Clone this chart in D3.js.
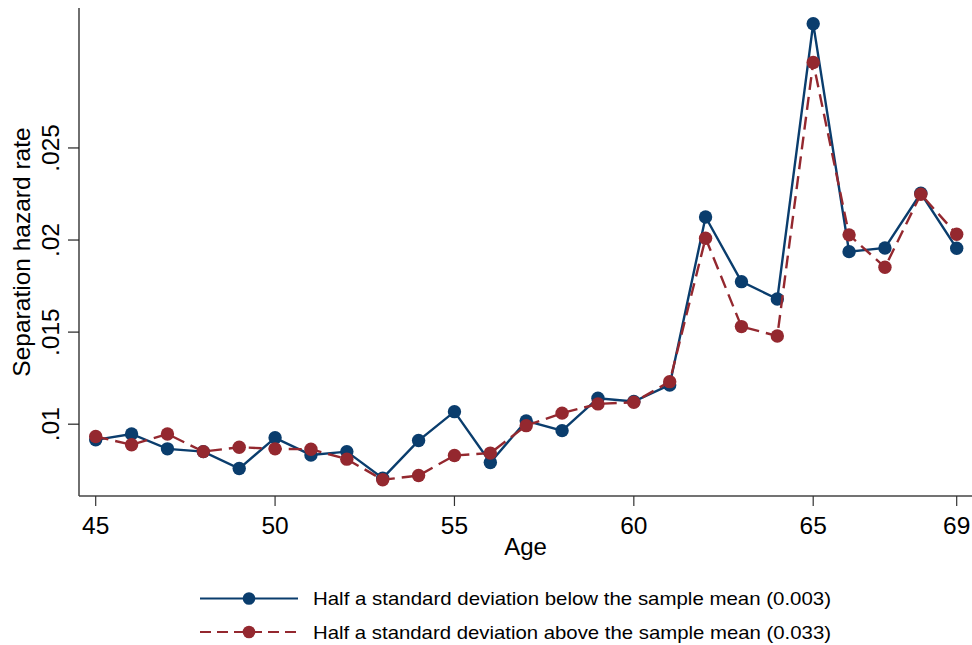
<!DOCTYPE html>
<html>
<head>
<meta charset="utf-8">
<script src="https://cdn.jsdelivr.net/npm/d3@7"></script>
<style>
  body { margin: 0; background: #fff; }
  svg { display: block; font-family: "Liberation Sans", Arial, sans-serif; }
</style>
</head>
<body>
<div id="chart"></div>
<script>
// Ages on the x axis
const ages = d3.range(45, 70);

// Separation hazard rate, half a SD below the sample mean
const below = [0.00915, 0.00947, 0.00866, 0.00851, 0.00759, 0.00926, 0.00833, 0.00851,
  0.00707, 0.00911, 0.01068, 0.00792, 0.01018, 0.00965, 0.01141, 0.01123, 0.01213,
  0.02125, 0.01774, 0.0168, 0.03175, 0.01937, 0.01957, 0.02254, 0.01955];

// Separation hazard rate, half a SD above the sample mean
const above = [0.00933, 0.00888, 0.00947, 0.00851, 0.00875, 0.00866, 0.00864, 0.0081,
  0.00698, 0.00721, 0.0083, 0.00843, 0.00992, 0.0106, 0.0111, 0.01119, 0.01231,
  0.0201, 0.0153, 0.01479, 0.02964, 0.02028, 0.01852, 0.02249, 0.02031];

const xTicks = [45, 50, 55, 60, 65, 69];
const yTicks = [0.01, 0.015, 0.02, 0.025];
const yTickLabels = [".01", ".015", ".02", ".025"];

const series = [
  { name: "Half a standard deviation below the sample mean (0.003)", values: below, color: "#0a3d6d", dash: null, legendDash: null },
  { name: "Half a standard deviation above the sample mean (0.033)", values: above, color: "#94282f", dash: "13,7", legendDash: "11,6" }
];

const width = 972;
const height = 645;
const plot = { left: 79, right: 972, top: 8, bottom: 496 };

const svg = d3.select("#chart").append("svg")
  .attr("width", width)
  .attr("height", height);

const x = d3.scaleLinear().domain([45, 69]).range([95.7, 956.7]);
const y = d3.scaleLinear().domain([0.0061, 0.0326]).range([plot.bottom, plot.top]);

// Axes lines
svg.append("line")
  .attr("x1", plot.left).attr("x2", plot.left)
  .attr("y1", plot.top).attr("y2", plot.bottom)
  .attr("stroke", "#222").attr("stroke-width", 1.3);
svg.append("line")
  .attr("x1", plot.left).attr("x2", plot.right)
  .attr("y1", plot.bottom).attr("y2", plot.bottom)
  .attr("stroke", "#444").attr("stroke-width", 1.3);

// X axis ticks and labels
const xg = svg.append("g");
xg.selectAll("line")
  .data(xTicks)
  .join("line")
  .attr("x1", d => x(d)).attr("x2", d => x(d))
  .attr("y1", plot.bottom).attr("y2", plot.bottom + 10)
  .attr("stroke", "#333").attr("stroke-width", 1.2);
xg.selectAll("text")
  .data(xTicks)
  .join("text")
  .attr("x", d => x(d))
  .attr("y", 533.5)
  .attr("text-anchor", "middle")
  .attr("font-size", 24.5)
  .attr("fill", "#000")
  .text(d => d);

// Y axis ticks and rotated labels
const yg = svg.append("g");
yg.selectAll("line")
  .data(yTicks)
  .join("line")
  .attr("x1", plot.left - 11).attr("x2", plot.left)
  .attr("y1", d => y(d)).attr("y2", d => y(d))
  .attr("stroke", "#222").attr("stroke-width", 1.2);
yg.selectAll("text")
  .data(yTicks)
  .join("text")
  .attr("transform", d => `translate(59,${y(d)}) rotate(-90)`)
  .attr("text-anchor", "middle")
  .attr("font-size", 24.5)
  .attr("fill", "#000")
  .text((d, i) => yTickLabels[i]);

// Axis titles
svg.append("text")
  .attr("x", (plot.left + plot.right) / 2)
  .attr("y", 555)
  .attr("text-anchor", "middle")
  .attr("font-size", 24)
  .text("Age");

svg.append("text")
  .attr("transform", `translate(30,${(plot.top + plot.bottom) / 2}) rotate(-90)`)
  .attr("text-anchor", "middle")
  .attr("font-size", 24.5)
  .text("Separation hazard rate");

// Lines and markers
const line = d3.line()
  .x((d, i) => x(ages[i]))
  .y(d => y(d));

series.forEach(s => {
  const g = svg.append("g");
  g.append("path")
    .datum(s.values)
    .attr("fill", "none")
    .attr("stroke", s.color)
    .attr("stroke-width", 2.4)
    .attr("stroke-dasharray", s.dash)
    .attr("d", line);
  g.selectAll("circle")
    .data(s.values)
    .join("circle")
    .attr("cx", (d, i) => x(ages[i]))
    .attr("cy", d => y(d))
    .attr("r", 6.7)
    .attr("fill", s.color);
});

// Legend
const legend = svg.append("g");
const legendY = [598.5, 632];
series.forEach((s, i) => {
  const ly = legendY[i];
  legend.append("line")
    .attr("x1", 200).attr("x2", 298)
    .attr("y1", ly).attr("y2", ly)
    .attr("stroke", s.color)
    .attr("stroke-width", 2.2)
    .attr("stroke-dasharray", s.legendDash);
  legend.append("circle")
    .attr("cx", 249).attr("cy", ly).attr("r", 6.3)
    .attr("fill", s.color);
  legend.append("text")
    .attr("x", 313)
    .attr("y", ly + 6.5)
    .attr("font-size", 19)
    .attr("textLength", 518)
    .attr("lengthAdjust", "spacingAndGlyphs")
    .text(s.name);
});
</script>
</body>
</html>
